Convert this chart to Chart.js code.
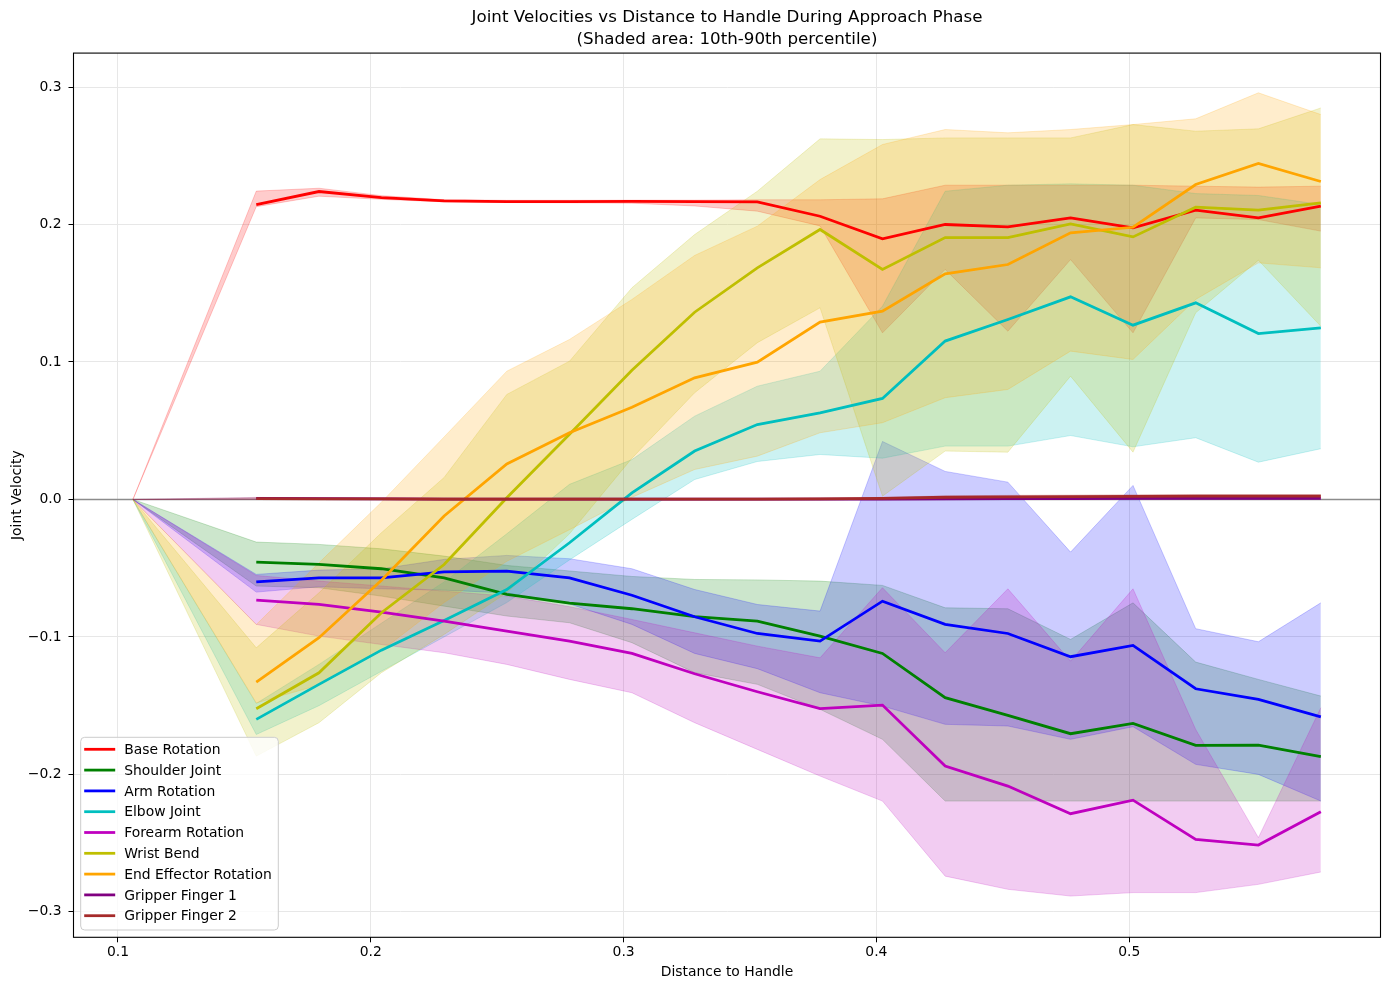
<!DOCTYPE html>
<html>
<head>
<meta charset="utf-8">
<title>Joint Velocities vs Distance to Handle</title>
<script src="https://cdn.jsdelivr.net/npm/chart.js@4.4.1/dist/chart.umd.min.js"></script>
<style>
  html, body { margin: 0; padding: 0; background: #ffffff; }
  #wrap { position: relative; width: 1389px; height: 990px; }
</style>
</head>
<body>
<div id="wrap"><canvas id="chart"></canvas></div>
<script>
// distance bins (x)
const distance = [0.1059, 0.1547, 0.1795, 0.2042, 0.2290, 0.2538, 0.2786, 0.3033, 0.3281, 0.3529,
  0.3777, 0.4024, 0.4272, 0.4520, 0.4768, 0.5015, 0.5263, 0.5511, 0.5758];

// mean velocity + 10th / 90th percentile per joint
const baseMean = [null, 0.2145, 0.2240, 0.2196, 0.2172, 0.2167, 0.2167, 0.2168, 0.2166, 0.2164, 0.2060, 0.1896, 0.2000, 0.1983, 0.2048, 0.1976, 0.2104, 0.2048, 0.2133];
const baseP10 = [0, 0.2130, 0.2206, 0.2183, 0.2165, 0.2160, 0.2158, 0.2155, 0.2135, 0.2097, 0.1990, 0.1212, 0.1673, 0.1224, 0.1745, 0.1212, 0.2048, 0.2036, 0.1952];
const baseP90 = [0, 0.2243, 0.2264, 0.2210, 0.2180, 0.2176, 0.2176, 0.2177, 0.2177, 0.2180, 0.2180, 0.2187, 0.2286, 0.2286, 0.2286, 0.2286, 0.2279, 0.2272, 0.2279];

const shoulderMean = [null, -0.0456, -0.0473, -0.0504, -0.0570, -0.0691, -0.0754, -0.0795, -0.0853, -0.0885, -0.0994, -0.1120, -0.1442, -0.1571, -0.1704, -0.1629, -0.1789, -0.1787, -0.1871];
const shoulderP10 = [0, -0.0630, -0.0642, -0.0703, -0.0776, -0.0848, -0.0897, -0.1042, -0.1260, -0.1345, -0.1527, -0.1745, -0.2194, -0.2194, -0.2194, -0.2194, -0.2194, -0.2194, -0.2194];
const shoulderP90 = [0, -0.0310, -0.0327, -0.0359, -0.0412, -0.0480, -0.0520, -0.0560, -0.0582, -0.0585, -0.0594, -0.0625, -0.0788, -0.0795, -0.1018, -0.0752, -0.1183, -0.1309, -0.1430];

const armMean = [null, -0.0599, -0.0570, -0.0570, -0.0526, -0.0521, -0.0570, -0.0697, -0.0853, -0.0975, -0.1030, -0.0740, -0.0909, -0.0975, -0.1144, -0.1062, -0.1377, -0.1455, -0.1581];
const armP10 = [0, -0.0674, -0.0635, -0.0650, -0.0660, -0.0680, -0.0760, -0.0909, -0.1120, -0.1231, -0.1406, -0.1503, -0.1636, -0.1648, -0.1745, -0.1653, -0.1927, -0.2000, -0.2194];
const armP90 = [0, -0.0545, -0.0514, -0.0504, -0.0436, -0.0407, -0.0431, -0.0504, -0.0655, -0.0764, -0.0812, 0.0422, 0.0204, 0.0126, -0.0383, 0.0102, -0.0940, -0.1035, -0.0752];

const elbowMean = [null, -0.1600, -0.1345, -0.1096, -0.0880, -0.0655, -0.0315, 0.0048, 0.0352, 0.0545, 0.0630, 0.0735, 0.1152, 0.1309, 0.1474, 0.1268, 0.1430, 0.1207, 0.1248];
const elbowP10 = [0, -0.1710, -0.1500, -0.1250, -0.1000, -0.0750, -0.0440, -0.0145, 0.0145, 0.0276, 0.0327, 0.0300, 0.0388, 0.0388, 0.0465, 0.0383, 0.0449, 0.0271, 0.0369];
const elbowP90 = [0, -0.1484, -0.1200, -0.0900, -0.0600, -0.0250, 0.0110, 0.0290, 0.0606, 0.0824, 0.0933, 0.1406, 0.2242, 0.2286, 0.2296, 0.2286, 0.2225, 0.2211, 0.2145];

const forearmMean = [null, -0.0732, -0.0764, -0.0820, -0.0885, -0.0958, -0.1030, -0.1120, -0.1268, -0.1399, -0.1522, -0.1496, -0.1939, -0.2085, -0.2286, -0.2187, -0.2473, -0.2514, -0.2271];
const forearmP10 = [0, -0.0909, -0.0994, -0.1055, -0.1115, -0.1200, -0.1309, -0.1406, -0.1624, -0.1818, -0.2012, -0.2194, -0.2740, -0.2836, -0.2885, -0.2860, -0.2860, -0.2800, -0.2710];
const forearmP90 = [0, -0.0553, -0.0594, -0.0630, -0.0667, -0.0703, -0.0780, -0.0873, -0.0970, -0.1067, -0.1152, -0.0642, -0.1115, -0.0650, -0.1176, -0.0650, -0.1673, -0.2460, -0.1515];

const wristMean = [null, -0.1522, -0.1261, -0.0824, -0.0473, 0.0012, 0.0475, 0.0940, 0.1362, 0.1685, 0.1964, 0.1673, 0.1905, 0.1905, 0.2005, 0.1910, 0.2126, 0.2104, 0.2158];
const wristP10 = [0, -0.1867, -0.1624, -0.1260, -0.0982, -0.0679, -0.0250, 0.0300, 0.0776, 0.1140, 0.1394, 0.0024, 0.0352, 0.0344, 0.0897, 0.0344, 0.1358, 0.1740, 0.1260];
const wristP90 = [0, -0.1079, -0.0679, -0.0242, 0.0160, 0.0764, 0.1006, 0.1540, 0.1927, 0.2242, 0.2623, 0.2618, 0.2630, 0.2630, 0.2630, 0.2727, 0.2679, 0.2696, 0.2848];

const effectorMean = [null, -0.1329, -0.1006, -0.0587, -0.0120, 0.0258, 0.0485, 0.0670, 0.0885, 0.0999, 0.1290, 0.1370, 0.1641, 0.1709, 0.1940, 0.1980, 0.2291, 0.2444, 0.2313];
const effectorP10 = [0, -0.1480, -0.1350, -0.1100, -0.0750, -0.0450, -0.0220, 0.0015, 0.0218, 0.0315, 0.0485, 0.0558, 0.0740, 0.0800, 0.1079, 0.1018, 0.1455, 0.1721, 0.1685];
const effectorP90 = [0, -0.0910, -0.0461, -0.0020, 0.0455, 0.0933, 0.1164, 0.1455, 0.1775, 0.1988, 0.2327, 0.2582, 0.2691, 0.2667, 0.2691, 0.2727, 0.2769, 0.2958, 0.2800];

const finger1Mean = [null, 0.0008, 0.0006, 0.0004, 0.0003, 0.0002, 0.0002, 0.0002, 0.0002, 0.0002, 0.0003, 0.0003, 0.0005, 0.0006, 0.0007, 0.0008, 0.0008, 0.0008, 0.0008];
const finger1P10 = [0, 0.0002, 0.0001, 0.0000, 0.0000, 0.0000, 0.0000, 0.0000, 0.0000, 0.0000, 0.0000, 0.0000, 0.0000, 0.0001, 0.0001, 0.0002, 0.0002, 0.0002, 0.0002];
const finger1P90 = [0, 0.0015, 0.0012, 0.0010, 0.0008, 0.0006, 0.0006, 0.0006, 0.0006, 0.0006, 0.0007, 0.0008, 0.0011, 0.0012, 0.0013, 0.0014, 0.0014, 0.0014, 0.0014];

const finger2Mean = [null, 0.0006, 0.0005, 0.0004, 0.0003, 0.0002, 0.0002, 0.0002, 0.0002, 0.0003, 0.0004, 0.0008, 0.0016, 0.0019, 0.0021, 0.0022, 0.0024, 0.0024, 0.0024];
const finger2P10 = [0, 0.0000, 0.0000, 0.0000, 0.0000, 0.0000, 0.0000, 0.0000, 0.0000, 0.0000, 0.0000, 0.0002, 0.0009, 0.0012, 0.0014, 0.0015, 0.0017, 0.0017, 0.0017];
const finger2P90 = [0, 0.0012, 0.0010, 0.0008, 0.0007, 0.0006, 0.0006, 0.0006, 0.0006, 0.0007, 0.0009, 0.0015, 0.0026, 0.0030, 0.0032, 0.0034, 0.0036, 0.0036, 0.0036];

const jointNames = ["Base Rotation", "Shoulder Joint", "Arm Rotation", "Elbow Joint", "Forearm Rotation",
  "Wrist Bend", "End Effector Rotation", "Gripper Finger 1", "Gripper Finger 2"];
const jointSeries = [
  [baseMean, baseP10, baseP90],
  [shoulderMean, shoulderP10, shoulderP90],
  [armMean, armP10, armP90],
  [elbowMean, elbowP10, elbowP90],
  [forearmMean, forearmP10, forearmP90],
  [wristMean, wristP10, wristP90],
  [effectorMean, effectorP10, effectorP90],
  [finger1Mean, finger1P10, finger1P90],
  [finger2Mean, finger2P10, finger2P90],
];
const jointColors = ["#ff0000", "#008000", "#0000ff", "#00bfbf", "#bf00bf", "#bfbf00", "#ffa500", "#800080", "#a52a2a"];

const FONT = '"DejaVu Sans", "Liberation Sans", sans-serif';

function withAlpha(hex, alpha) {
  const n = parseInt(hex.slice(1), 16);
  return `rgba(${(n >> 16) & 255}, ${(n >> 8) & 255}, ${n & 255}, ${alpha})`;
}

function toPoints(values) {
  return distance.map((x, i) => ({ x, y: values[i] }));
}

function fmtTick(v) {
  const r = Math.round(v * 10) / 10;
  if (r === 0) return "0.0";
  return (r < 0 ? "\u2212" : "") + Math.abs(r).toFixed(1);
}

const datasets = [];
jointSeries.forEach(([mean, p10, p90], i) => {
  const color = jointColors[i];
  // shaded 10-90 band: upper edge fills down to the next dataset (lower edge)
  datasets.push({
    label: jointNames[i] + " p90",
    data: toPoints(p90),
    borderColor: withAlpha(color, 0.2),
    backgroundColor: withAlpha(color, 0.2),
    borderWidth: 1,
    pointRadius: 0,
    fill: "+1",
    order: 200 - i,
  });
  datasets.push({
    label: jointNames[i] + " p10",
    data: toPoints(p10),
    borderColor: withAlpha(color, 0.2),
    borderWidth: 1,
    pointRadius: 0,
    fill: false,
    order: 200 - i,
  });
});
jointSeries.forEach(([mean], i) => {
  datasets.push({
    label: jointNames[i],
    data: toPoints(mean),
    borderColor: jointColors[i],
    borderWidth: 2.78,
    pointRadius: 0,
    fill: false,
    order: 8 - i,
  });
});

const zeroLine = {
  id: "zeroLine",
  beforeDatasetsDraw(chart) {
    const { ctx, chartArea, scales } = chart;
    const y = scales.y.getPixelForValue(0);
    ctx.save();
    ctx.strokeStyle = "#8c8c8c";
    ctx.lineWidth = 1.4;
    ctx.beginPath();
    ctx.moveTo(chartArea.left, y);
    ctx.lineTo(chartArea.right, y);
    ctx.stroke();
    ctx.restore();
  },
};

const frame = {
  id: "frame",
  afterDatasetsDraw(chart) {
    const { ctx, chartArea } = chart;
    ctx.save();
    ctx.strokeStyle = "#000000";
    ctx.lineWidth = 1.1;
    ctx.strokeRect(chartArea.left, chartArea.top, chartArea.right - chartArea.left, chartArea.bottom - chartArea.top);
    ctx.restore();
  },
};

const legendBox = {
  id: "legendBox",
  afterDraw(chart) {
    const { ctx, chartArea } = chart;
    const rowH = 20.8;
    const w = 197.6, h = 192.7;
    const x0 = chartArea.left + 7.2;
    const y0 = chartArea.bottom - 7.3 - h;
    ctx.save();
    ctx.beginPath();
    ctx.roundRect(x0, y0, w, h, 4);
    ctx.fillStyle = "rgba(255, 255, 255, 0.8)";
    ctx.fill();
    ctx.strokeStyle = "#cccccc";
    ctx.lineWidth = 1;
    ctx.stroke();
    ctx.font = "13.9px " + FONT;
    ctx.textBaseline = "middle";
    ctx.textAlign = "left";
    jointNames.forEach((name, i) => {
      const y = y0 + 12 + i * rowH;
      ctx.strokeStyle = jointColors[i];
      ctx.lineWidth = 2.78;
      ctx.beginPath();
      ctx.moveTo(x0 + 3.5, y);
      ctx.lineTo(x0 + 34.5, y);
      ctx.stroke();
      ctx.fillStyle = "#000000";
      ctx.fillText(name, x0 + 43.5, y + 1);
    });
    ctx.restore();
  },
};

new Chart(document.getElementById("chart"), {
  type: "line",
  data: { datasets },
  options: {
    responsive: true,
    maintainAspectRatio: false,
    devicePixelRatio: 1,
    animation: false,
    layout: { padding: { left: 0, right: 8.5, top: 0, bottom: 0 } },
    elements: { line: { tension: 0 } },
    plugins: {
      legend: { display: false },
      tooltip: { enabled: false },
      title: {
        display: true,
        fullSize: false,
        text: ["Joint Velocities vs Distance to Handle During Approach Phase", "(Shaded area: 10th-90th percentile)"],
        color: "#000000",
        font: { family: FONT, size: 16.7, weight: "normal", lineHeight: 1.35 },
        padding: { top: 6, bottom: 2 },
      },
    },
    scales: {
      x: {
        type: "linear",
        min: 0.0824,
        max: 0.5994,
        afterFit: (scale) => { scale.height = 52.7; },
        border: { display: false },
        grid: { color: "#e7e7e7", lineWidth: 1, tickLength: 5, tickColor: "#000000", tickWidth: 1 },
        ticks: {
          stepSize: 0.1,
          includeBounds: false,
          autoSkip: false,
          maxRotation: 0,
          padding: 2,
          color: "#000000",
          font: { family: FONT, size: 13.9 },
          callback: (v) => Number(v).toFixed(1),
        },
        title: {
          display: true,
          text: "Distance to Handle",
          color: "#000000",
          font: { family: FONT, size: 13.9 },
          padding: { top: 0, bottom: 9.7 },
        },
      },
      y: {
        type: "linear",
        min: -0.3185,
        max: 0.3247,
        afterFit: (scale) => { scale.width = 73.5; },
        border: { display: false },
        grid: { color: "#e7e7e7", lineWidth: 1, tickLength: 5, tickColor: "#000000", tickWidth: 1 },
        ticks: {
          stepSize: 0.1,
          includeBounds: false,
          padding: 7,
          color: "#000000",
          font: { family: FONT, size: 13.9 },
          callback: (v) => fmtTick(v),
        },
        title: {
          display: true,
          text: "Joint Velocity",
          color: "#000000",
          font: { family: FONT, size: 13.9 },
          padding: { top: 8.7, bottom: 0 },
        },
      },
    },
  },
  plugins: [zeroLine, frame, legendBox],
});
</script>
</body>
</html>
